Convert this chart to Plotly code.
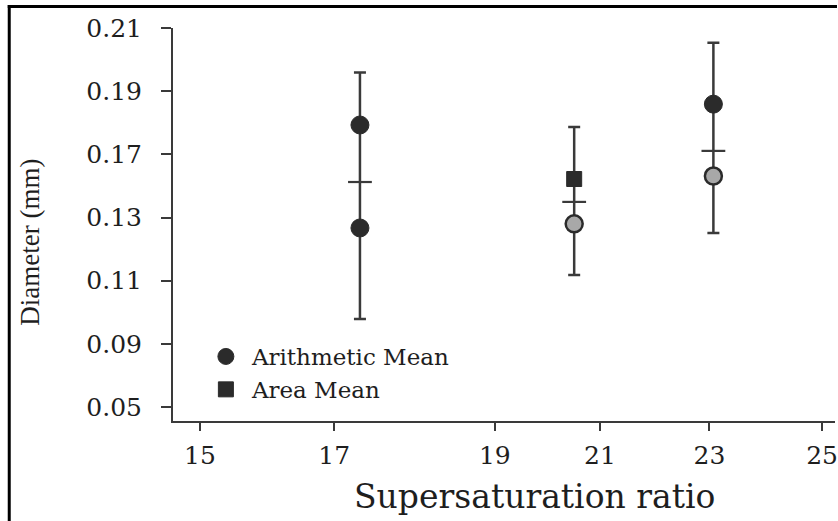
import numpy as np
import plotly.graph_objects as go

# ---- data (read in the axis' labelled units) ----
x_groups = [17.32, 20.51, 23.07]            # supersaturation ratio of each group
err_upper = [0.1959, 0.1787, 0.2053]
err_mid = [0.1525, 0.1399, 0.1711]
err_lower = [0.0979, 0.1118, 0.1251]

arith_x = [17.32, 17.32, 23.07]
arith_y = [0.1793, 0.1267, 0.1859]
area_x = [20.51]
area_y = [0.1544]
grey_x = [20.51, 23.07]
grey_y = [0.1280, 0.1563]

x_tick_labels = ["15", "17", "19", "21", "23", "25"]
x_tick_values = [15, 17, 19, 21, 23, 25]
y_tick_labels = ["0.05", "0.09", "0.11", "0.13", "0.17", "0.19", "0.21"]
y_tick_values = [0.05, 0.09, 0.11, 0.13, 0.17, 0.19, 0.21]

# ---- the printed axes are not linear: place ticks where the figure has them ----
x_tick_pos = [15.0, 17.16, 19.74, 21.43, 23.19, 25.0]
y_tick_pos = [0, 1, 2, 3, 4, 5, 6]


def fx(v):
    return np.interp(v, x_tick_values, x_tick_pos)


def fy(v):
    return np.interp(v, y_tick_values, y_tick_pos)


DARK = "#2b2b2b"
LINE = "#3a3a3a"
SERIF = "DejaVu Serif"
TXT = "#1e1e1e"

fig = go.Figure()

mid = fy(err_mid)
fig.add_trace(go.Scatter(
    x=fx(x_groups), y=mid, mode="markers", showlegend=False, hoverinfo="skip",
    marker=dict(symbol="line-ew", size=17, line=dict(width=2.2, color=LINE), color=LINE),
    error_y=dict(type="data", symmetric=False,
                 array=fy(err_upper) - mid, arrayminus=mid - fy(err_lower),
                 color=LINE, thickness=2.5, width=6),
))

fig.add_trace(go.Scatter(
    x=fx(grey_x), y=fy(grey_y), mode="markers", showlegend=False,
    marker=dict(symbol="circle", size=17, color="#a8a8a8", line=dict(width=2.5, color=DARK)),
))
fig.add_trace(go.Scatter(
    x=fx(arith_x), y=fy(arith_y), mode="markers", name="Arithmetic Mean",
    marker=dict(symbol="circle", size=18, color=DARK, line=dict(width=1, color=DARK)),
))
fig.add_trace(go.Scatter(
    x=fx(area_x), y=fy(area_y), mode="markers", name="Area Mean",
    marker=dict(symbol="square", size=15, color=DARK, line=dict(width=1, color=DARK)),
))

L, R, T, B = 173, 0, 28, 100
W, H = 838, 521
pw, ph = W - L - R, H - T - B


def px2paper_x(px):
    return (px - L) / pw


def px2paper_y(py):
    return (H - B - py) / ph


fig.update_layout(
    width=W, height=H,
    margin=dict(l=L, r=R, t=T, b=B),
    paper_bgcolor="white", plot_bgcolor="white",
    font=dict(family=SERIF, color=TXT),
    xaxis=dict(range=[14.568, 25.208], tickmode="array", tickvals=x_tick_pos,
               ticktext=x_tick_labels, showgrid=False, zeroline=False,
               showline=True, linecolor=LINE, linewidth=2,
               ticks="outside", ticklen=8, tickwidth=2, tickcolor=LINE,
               tickfont=dict(family=SERIF, size=25, color=TXT),
               ticklabelstandoff=3, ticklabeloverflow="allow"),
    yaxis=dict(range=[-0.22, 6], tickmode="array", tickvals=y_tick_pos,
               ticktext=y_tick_labels, showgrid=False, zeroline=False,
               showline=True, linecolor=LINE, linewidth=2,
               ticks="outside", ticklen=10, tickwidth=2, tickcolor=LINE,
               tickfont=dict(family=SERIF, size=25, color=TXT),
               ticklabelstandoff=14, ticklabeloverflow="allow"),
    legend=dict(x=px2paper_x(200), y=px2paper_y(335), xanchor="left", yanchor="top",
                bgcolor="rgba(0,0,0,0)", font=dict(family=SERIF, size=23, color=TXT),
                itemsizing="trace", itemwidth=42, tracegroupgap=4),
    showlegend=True,
)

fig.add_annotation(text="Supersaturation ratio", xref="paper", yref="paper",
                   x=px2paper_x(536), y=px2paper_y(496), xanchor="center", yanchor="middle",
                   showarrow=False, font=dict(family=SERIF, size=33, color=TXT))
fig.add_annotation(text="Diameter (mm)", xref="paper", yref="paper", textangle=-90,
                   x=px2paper_x(29), y=px2paper_y(242), xanchor="center", yanchor="middle",
                   showarrow=False, font=dict(family="Liberation Serif", size=27, color=TXT))

# frame lines of the figure (top and left edges)
fig.add_shape(type="line", xref="paper", yref="paper",
              x0=px2paper_x(7), x1=px2paper_x(840), y0=px2paper_y(6.5), y1=px2paper_y(6.5),
              line=dict(color="black", width=3))
fig.add_shape(type="line", xref="paper", yref="paper",
              x0=px2paper_x(8.5), x1=px2paper_x(8.5), y0=px2paper_y(5), y1=px2paper_y(525),
              line=dict(color="black", width=3))

fig.write_html("out.html")
